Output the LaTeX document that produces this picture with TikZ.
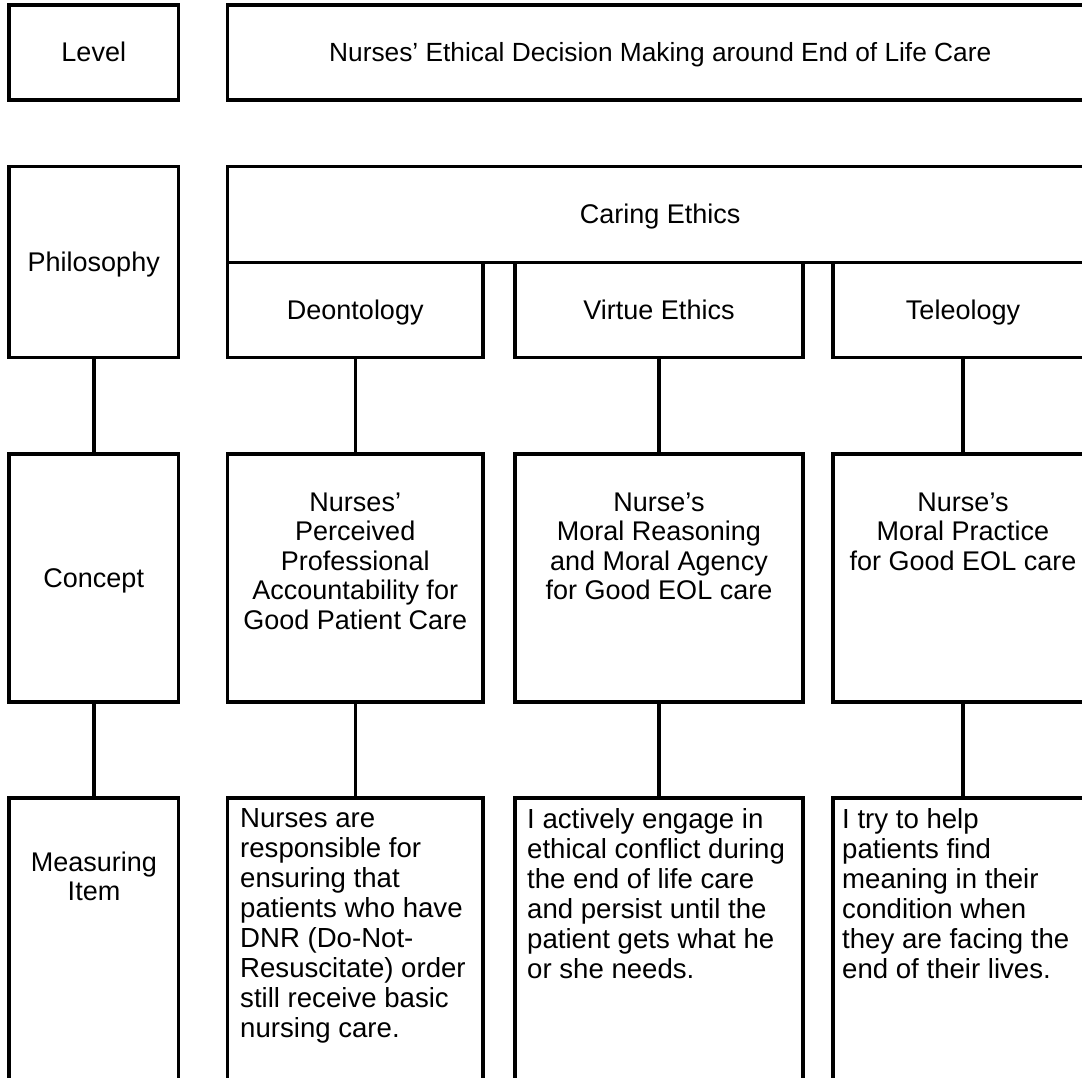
\documentclass[tikz,border=0pt]{standalone}
\usepackage{fontspec}
\setmainfont{Liberation Sans}
\usetikzlibrary{fit}
\begin{document}
\begin{tikzpicture}[x=1pt,y=-1pt,
  box/.style={draw, line width=3.5pt, inner sep=0pt, rectangle},
  conn/.style={draw, line width=3.5pt},
  one/.style={inner sep=0pt, font=\fontsize{27}{29}\selectfont, text height=24.4pt, text depth=5.7pt},
  txt/.style={inner sep=0pt, font=\fontsize{27}{29.5}\selectfont, align=center},
  ltxt/.style={inner sep=0pt, font=\fontsize{27.6}{30}\selectfont, align=left}]
\useasboundingbox (0,0) rectangle (1082,1078);
\clip (0,0) rectangle (1082,1078);
% row 1
\node[box, fit={(9,5)(178.5,100)}] (level) {};
\node[box, fit={(227.5,5)(1093,100)}] (title) {};
\node[one] (tlevel) at (level.center) {Level};
\node[one, font=\fontsize{26.3}{29}\selectfont] (ttitle) at (title.center) {Nurses’ Ethical Decision Making around End of Life Care};
% row 2
\node[box, fit={(9,166.5)(178.5,357.5)}] (phil) {};
\node[box, fit={(227.5,166.5)(1093,262.5)}] (caring) {};
\node[box, fit={(227.5,262.5)(483,357.5)}] (deon) {};
\node[box, fit={(515,262.5)(803,357.5)}] (virt) {};
\node[box, fit={(833,262.5)(1093,357.5)}] (tele) {};
\node[one] (tphil) at (phil.center) {Philosophy};
\node[one] (tcaring) at (caring.center) {Caring Ethics};
\node[one] (tdeon) at (deon.center) {Deontology};
\node[one] (tvirt) at (virt.center) {Virtue Ethics};
\node[one] (ttele) at (tele.center) {Teleology};
% row 3
\node[box, fit={(9,454)(178.5,702)}] (conc) {};
\node[box, fit={(227.5,454)(483,702)}] (cdeon) {};
\node[box, fit={(515,454)(803,702)}] (cvirt) {};
\node[box, fit={(833,454)(1093,702)}] (ctele) {};
\node[one] (tconc) at (conc.center) {Concept};
\node[txt, anchor=north] (tcdeon) at ([yshift=-40pt]cdeon.north) {Nurses’\\Perceived\\Professional\\Accountability for\\Good Patient Care};
\node[txt, anchor=north] (tcvirt) at ([yshift=-40pt]cvirt.north) {Nurse’s\\Moral Reasoning\\and Moral Agency\\for Good EOL care};
\node[txt, anchor=north] (tctele) at ([yshift=-40pt]ctele.north) {Nurse’s\\Moral Practice\\for Good EOL care};
% row 4
\node[box, fit={(9,798)(178.5,1100)}] (meas) {};
\node[box, fit={(227.5,798)(483,1100)}] (mdeon) {};
\node[box, fit={(515,798)(803,1100)}] (mvirt) {};
\node[box, fit={(833,798)(1093,1100)}] (mtele) {};
\node[txt, font=\fontsize{27}{29}\selectfont] (tmeas) at (94,876) {Measuring\\Item};
\node[ltxt, anchor=north west] (tmdeon) at (240,808) {Nurses are\\responsible for\\ensuring that\\patients who have\\DNR (Do-Not-\\Resuscitate) order\\still receive basic\\nursing care.};
\node[ltxt, anchor=north west] (tmvirt) at (527,808) {I actively engage in\\ethical conflict during\\the end of life care\\and persist until the\\patient gets what he\\or she needs.};
\node[ltxt, anchor=north west] (tmtele) at (842,808) {I try to help\\patients find\\meaning in their\\condition when\\they are facing the\\end of their lives.};
% connectors
\draw[conn] (phil.south) -- (conc.north);
\draw[conn] (conc.south) -- (meas.north);
\draw[conn] (deon.south) -- (cdeon.north);
\draw[conn] (cdeon.south) -- (mdeon.north);
\draw[conn] (virt.south) -- (cvirt.north);
\draw[conn] (cvirt.south) -- (mvirt.north);
\draw[conn] (tele.south) -- (ctele.north);
\draw[conn] (ctele.south) -- (mtele.north);
\end{tikzpicture}
\end{document}
